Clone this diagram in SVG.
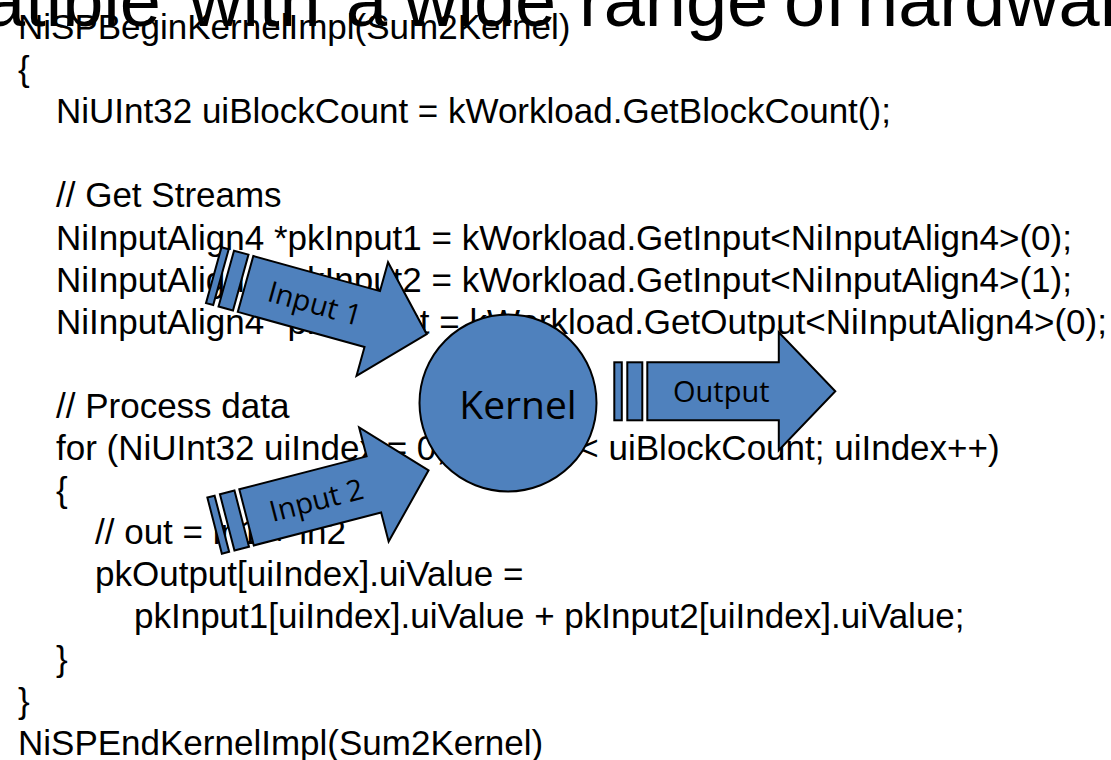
<svg xmlns="http://www.w3.org/2000/svg" width="1111" height="760" viewBox="0 0 1111 760">
<style>
.code{font-family:"Liberation Sans",Arial,sans-serif;font-size:35px;fill:#000}
.title{font-family:"Liberation Sans",Arial,sans-serif;font-size:74px;fill:#000}
.shape{fill:#4F81BD;stroke:#000;stroke-width:2;stroke-linejoin:miter}
.lbl{font-family:"Open Sans","Noto Sans",sans-serif;fill:#000;text-anchor:middle}
</style>
<defs>
<g id="striped">
<rect class="shape" x="-33" y="0" width="7.5" height="58"/>
<rect class="shape" x="-20" y="0" width="15" height="58"/>
<path class="shape" d="M0,0 L131.5,0 L131.5,-30 L188,29 L131.5,88 L131.5,58 L0,58 Z"/>
</g>
</defs>
<rect width="1111" height="760" fill="#fff"/>
<g id="title">
<text class="title" y="26"><tspan x="-16">atible</tspan> <tspan x="189">with</tspan> <tspan x="346">a</tspan> <tspan x="404">wide</tspan> <tspan x="579">range</tspan> <tspan x="784">of</tspan> <tspan x="857">hardwar</tspan></text>
</g>
<g id="code">
<text class="code" x="18" y="39">NiSPBeginKernelImpl(Sum2Kernel)</text>
<text class="code" x="18" y="81.1">{</text>
<text class="code" x="56" y="123.2">NiUInt32 uiBlockCount = kWorkload.GetBlockCount();</text>
<text class="code" x="56" y="207.4">// Get Streams</text>
<text class="code" x="56" y="249.5">NiInputAlign4 *pkInput1 = kWorkload.GetInput&lt;NiInputAlign4&gt;(0);</text>
<text class="code" x="56" y="291.6">NiInputAlign4 *pkInput2 = kWorkload.GetInput&lt;NiInputAlign4&gt;(1);</text>
<text class="code" x="56" y="333.7">NiInputAlign4 *pkOutput = kWorkload.GetOutput&lt;NiInputAlign4&gt;(0);</text>
<text class="code" x="56" y="417.9">// Process data</text>
<text class="code" x="56" y="460">for (NiUInt32 uiIndex = 0; uiIndex &lt; uiBlockCount; uiIndex++)</text>
<text class="code" x="56" y="502.1">{</text>
<text class="code" x="95" y="544.2">// out = in1 + in2</text>
<text class="code" x="95" y="586.3">pkOutput[uiIndex].uiValue =</text>
<text class="code" x="134" y="628.4">pkInput1[uiIndex].uiValue + pkInput2[uiIndex].uiValue;</text>
<text class="code" x="56" y="670.5">}</text>
<text class="code" x="18" y="712.6">}</text>
<text class="code" x="18" y="754.7">NiSPEndKernelImpl(Sum2Kernel)</text>
</g>
<g id="kernel">
<circle class="shape" cx="508" cy="403" r="88.5"/>
<text class="lbl" x="518" y="419" font-size="39">Kernel</text>
</g>
<g id="connectors">
<g id="input1" transform="translate(253.3,256) rotate(15.5)">
<use href="#striped"/>
<text class="lbl" x="72" y="39.5" font-size="29">Input 1</text>
</g>
<g id="input2" transform="translate(239.3,489.3) rotate(-14.5)">
<use href="#striped"/>
<text class="lbl" x="72" y="40" font-size="29">Input 2</text>
</g>
<g id="output" transform="translate(647.3,362.3)">
<use href="#striped"/>
<text class="lbl" x="74" y="40" font-size="29">Output</text>
</g>
</g>
</svg>
